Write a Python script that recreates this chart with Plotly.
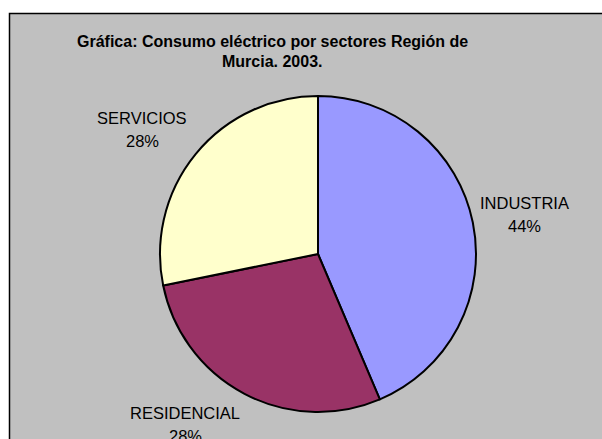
import plotly.graph_objects as go

W, H = 602, 439

# Sector shares of electricity consumption (%)
sectores = ["INDUSTRIA", "RESIDENCIAL", "SERVICIOS"]
consumo = [43.6, 28.2, 28.2]
colores = ["#9999FF", "#993366", "#FFFFCC"]

titulo = ["Gráfica: Consumo eléctrico por sectores Región de", "Murcia. 2003."]

# label anchor points (pixels from top-left)
label_pos = {"INDUSTRIA": (524, 203), "RESIDENCIAL": (185, 413), "SERVICIOS": (142, 118)}


def px(x):
    return x / W


def py(y):
    return 1 - y / H


total = sum(consumo)
cx, cy, r = 318, 254, 158

fig = go.Figure(
    go.Pie(
        labels=sectores,
        values=consumo,
        sort=False,
        direction="clockwise",
        rotation=0,
        marker=dict(colors=colores, line=dict(color="black", width=2)),
        textinfo="none",
        hoverinfo="label+percent",
        showlegend=False,
        domain=dict(x=[px(cx - r), px(cx + r)], y=[py(cy + r), py(cy - r)]),
    )
)

annotations = []
for i, t in enumerate(titulo):
    annotations.append(dict(
        x=px(272), y=py(41 + 21 * i), xref="paper", yref="paper",
        text=f"<b>{t}</b>", showarrow=False, xanchor="center", yanchor="middle",
        font=dict(family="Liberation Sans, Arial", size=16, color="black"),
    ))

for name, val in zip(sectores, consumo):
    lx, ly = label_pos[name]
    pct = f"{round(val / total * 100):.0f}%"
    for j, t in enumerate([name, pct]):
        annotations.append(dict(
            x=px(lx), y=py(ly + 23 * j), xref="paper", yref="paper",
            text=t, showarrow=False, xanchor="center", yanchor="middle",
            font=dict(family="Liberation Sans, Arial", size=16.5, color="black"),
        ))

fig.update_layout(
    width=W, height=H,
    margin=dict(l=0, r=0, t=0, b=0),
    paper_bgcolor="white",
    plot_bgcolor="white",
    shapes=[dict(
        type="rect", xref="paper", yref="paper",
        x0=px(9.5), x1=px(W + 5), y0=py(H + 5), y1=py(13.5),
        fillcolor="#C0C0C0", line=dict(color="black", width=1.5), layer="below",
    )],
    annotations=annotations,
)

fig.write_html("out.html")
